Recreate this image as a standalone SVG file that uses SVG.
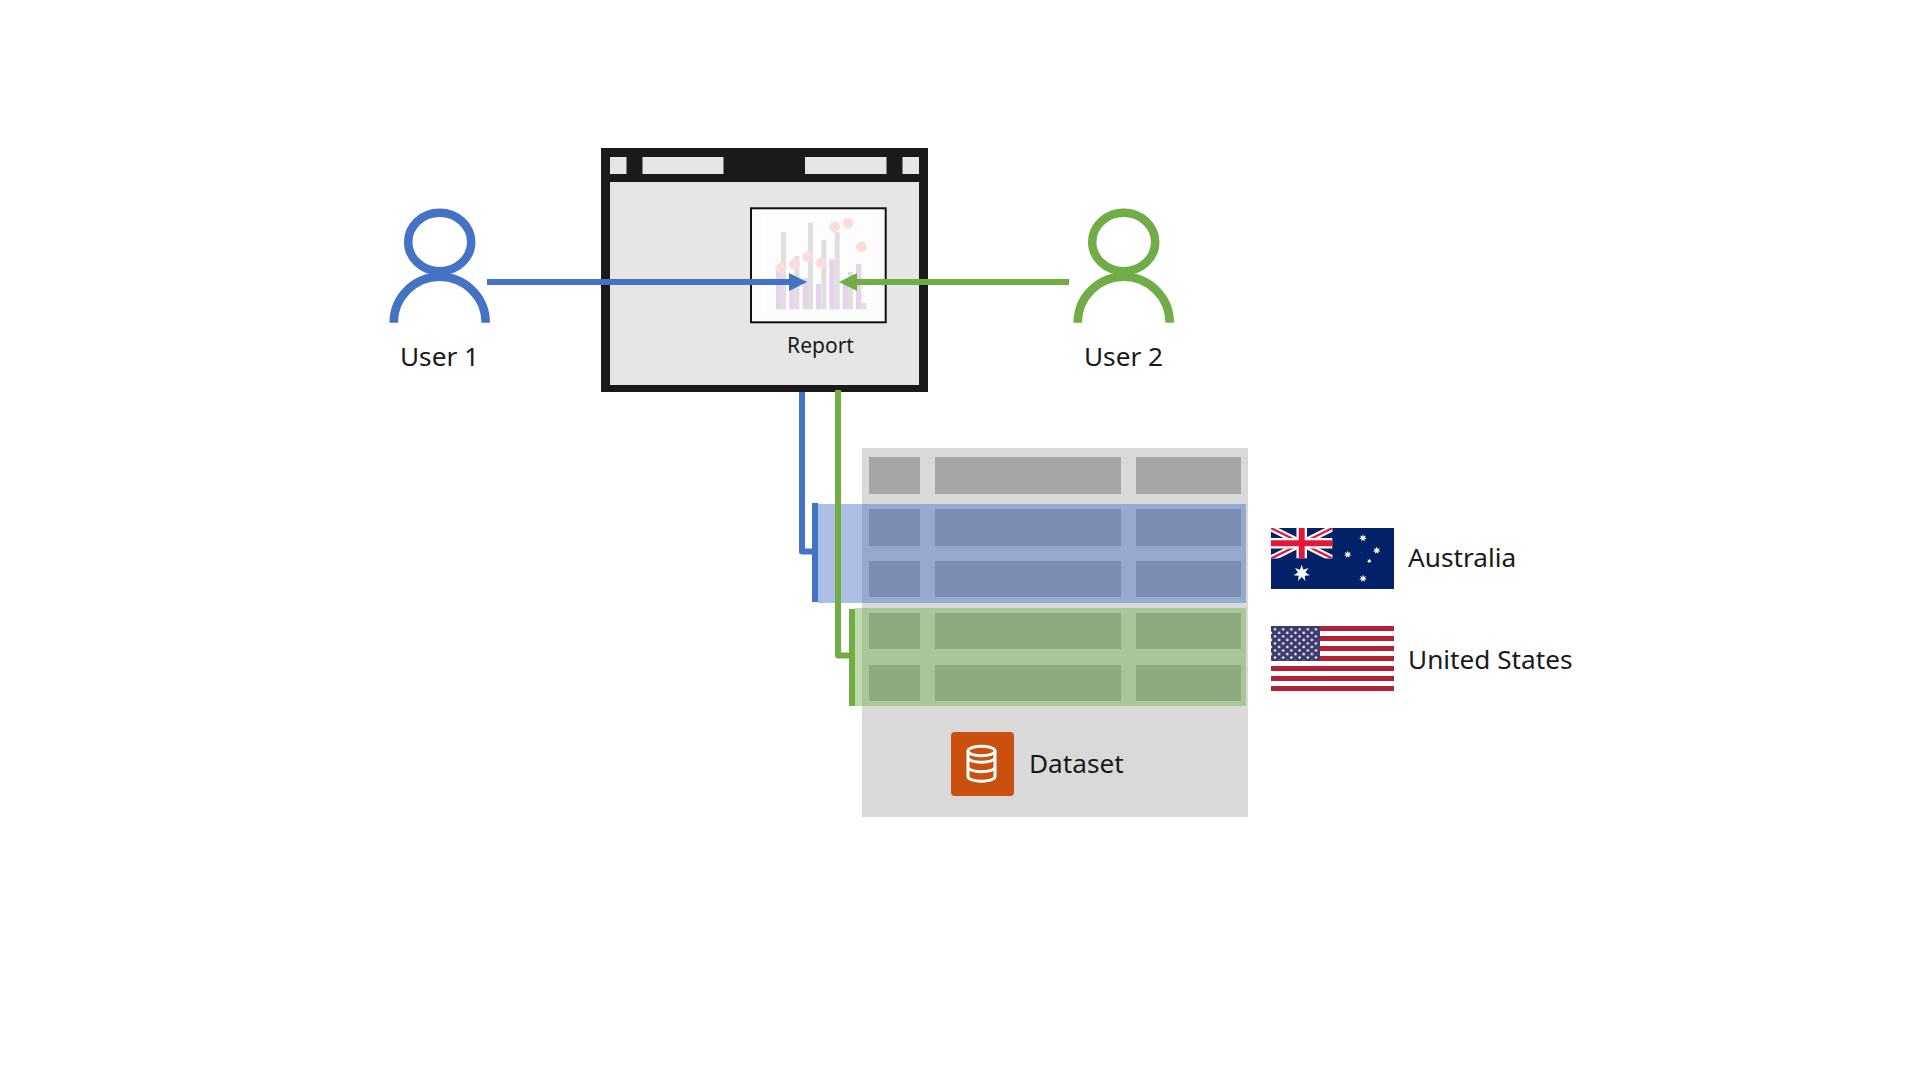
<svg xmlns="http://www.w3.org/2000/svg" width="1920" height="1080" viewBox="0 0 1920 1080">
<style>
text{font-family:"Noto Sans","Open Sans","Liberation Sans",sans-serif;fill:#1a1a1a}
.t{font-size:26.2px}
.w{fill:#e6e6e6}
.h{fill:#a6a6a6}
.cn{fill:none;stroke-width:6;stroke-linejoin:round}
.b{stroke:#4472c4}
.g{stroke:#70ad47}
.usr{fill:none;stroke-width:8.5}
.pk{fill:#e6d2ea}
.gy{fill:#dfdfdf}
.dot{fill:#fcdbd8;stroke:#fde2df;stroke-width:3}
.star{fill:#fff}
</style>
<defs>
<g id="user"><ellipse cx="439.7" cy="242" rx="31.5" ry="29.2"/><path d="M393.7 322.7A46 46 0 0 1 485.7 322.7"/></g>
<polygon id="s7" points="0,-1 .195,-.405 .782,-.623 .439,-.1 .975,.2225 .352,.281 .434,.901 0,.45 -.434,.901 -.352,.281 -.975,.2225 -.439,-.1 -.782,-.623 -.195,-.405"/>
<marker id="ab" markerUnits="userSpaceOnUse" markerWidth="18" markerHeight="18" refX="0" refY="9" orient="auto"><path d="M0 0L18 9L0 18Z" fill="#4472c4"/></marker>
<marker id="ag" markerUnits="userSpaceOnUse" markerWidth="18" markerHeight="18" refX="0" refY="9" orient="auto"><path d="M0 0L18 9L0 18Z" fill="#70ad47"/></marker>
<pattern id="stars" patternUnits="userSpaceOnUse" x="1271" y="627" width="16.4" height="7.07"><circle cx="4" cy="2.3" r="1.25" fill="#fff"/><circle cx="8.1" cy="5.9" r="1.25" fill="#fff"/><circle cx="12.2" cy="2.3" r="1.25" fill="#fff"/><circle cx="16.3" cy="5.9" r="1.25" fill="#fff"/><circle cx="0" cy="5.9" r="1.25" fill="#fff"/></pattern>
<clipPath id="uj"><rect x="1271" y="528" width="61.5" height="30.6"/></clipPath>
</defs>
<rect width="1920" height="1080" fill="#fff"/>

<g id="report-window">
<rect x="601" y="148" width="327" height="244" fill="#1a1a1a"/>
<rect class="w" x="610" y="182" width="309" height="203"/>
<rect class="w" x="610" y="157" width="16.5" height="17"/>
<rect class="w" x="642.5" y="157" width="81" height="17"/>
<rect class="w" x="805" y="157" width="81.5" height="17"/>
<rect class="w" x="902.5" y="157" width="16.5" height="17"/>
<g id="report">
<rect x="751" y="208.3" width="134.7" height="114" fill="#fbfbfb" stroke="#111" stroke-width="2"/>
<g transform="translate(740 190) scale(.33333)">
<rect x="65" y="72" width="345" height="298" fill="#fdfdfd"/>
<rect class="pk" x="108" y="240" width="15" height="118"/><rect class="gy" x="123" y="126" width="15" height="232"/>
<rect class="pk" x="148" y="270" width="15" height="88"/><rect class="gy" x="163" y="198" width="15" height="160"/>
<rect class="pk" x="188" y="265" width="16" height="93"/><rect class="gy" x="204" y="98" width="15" height="260"/>
<rect class="pk" x="228" y="282" width="16" height="76"/><rect class="gy" x="244" y="150" width="15" height="208"/>
<rect class="pk" x="268" y="208" width="16" height="150"/><rect class="gy" x="284" y="127" width="15" height="231"/>
<rect class="pk" x="308" y="270" width="16" height="88"/><rect class="gy" x="324" y="246" width="15" height="112"/>
<rect class="pk" x="348" y="222" width="16" height="136"/><rect class="gy" x="364" y="338" width="15" height="20"/>
<circle class="dot" cx="122" cy="234" r="15"/><circle class="dot" cx="163" cy="222" r="15"/><circle class="dot" cx="203" cy="200" r="15"/><circle class="dot" cx="243" cy="219" r="15"/><circle class="dot" cx="284" cy="110" r="15"/><circle class="dot" cx="324" cy="99" r="15"/><circle class="dot" cx="364" cy="170" r="15"/>
</g>
<text x="820.5" y="352.7" font-size="21" text-anchor="middle">Report</text>
</g>
</g>

<g id="user-1">
<use href="#user" class="usr" stroke="#4472c4"/>
<text class="t" x="439.5" y="366" text-anchor="middle">User 1</text>
</g>
<g id="user-2">
<use href="#user" class="usr" stroke="#70ad47" transform="translate(684 0)"/>
<text class="t" x="1123.5" y="366" text-anchor="middle">User 2</text>
</g>

<g id="dataset">
<rect x="862" y="448" width="386" height="369" fill="#d9d9d9"/>
<g class="h">
<rect x="869" y="457" width="51" height="37"/><rect x="935" y="457" width="186" height="37"/><rect x="1136" y="457" width="105" height="37"/>
<rect x="869" y="509" width="51" height="37"/><rect x="935" y="509" width="186" height="37"/><rect x="1136" y="509" width="105" height="37"/>
<rect x="869" y="561" width="51" height="36"/><rect x="935" y="561" width="186" height="36"/><rect x="1136" y="561" width="105" height="36"/>
<rect x="869" y="613" width="51" height="36"/><rect x="935" y="613" width="186" height="36"/><rect x="1136" y="613" width="105" height="36"/>
<rect x="869" y="665" width="51" height="36"/><rect x="935" y="665" width="186" height="36"/><rect x="1136" y="665" width="105" height="36"/>
</g>
<rect x="818" y="504" width="428" height="99" fill="#4472c4" fill-opacity=".45"/>
<rect x="855" y="608" width="391" height="98" fill="#70ad47" fill-opacity=".45"/>
<g id="dataset-icon">
<rect x="951" y="732" width="63" height="64" rx="4" fill="#ca500d"/>
<g fill="none" stroke="#fff" stroke-width="3">
<ellipse cx="981.5" cy="751" rx="13.5" ry="4.8"/>
<path d="M968 751V776.5A13.5 4.8 0 0 0 995 776.5V751M968 757.5A13.5 4.8 0 0 0 995 757.5M968 767A13.5 4.8 0 0 0 995 767"/>
</g>
</g>
<text class="t" x="1029" y="772.7">Dataset</text>
</g>

<g id="australia">
<rect x="1271" y="528" width="123" height="61" fill="#012169"/>
<g clip-path="url(#uj)">
<path d="M1271 528L1332.5 558.6M1332.5 528L1271 558.6" stroke="#fff" stroke-width="6.5"/>
<path d="M1271 528L1332.5 558.6M1332.5 528L1271 558.6" stroke="#e4173b" stroke-width="2.2"/>
<path d="M1301.7 528V558.6M1271 543.3H1332.5" stroke="#fff" stroke-width="10.5"/>
<path d="M1301.7 528V558.6M1271 543.3H1332.5" stroke="#e4173b" stroke-width="6"/>
</g>
<use href="#s7" class="star" transform="translate(1301.7 573.3) scale(8.5)"/>
<use href="#s7" class="star" transform="translate(1347.7 554.5) scale(4)"/>
<use href="#s7" class="star" transform="translate(1363 538) scale(4)"/>
<use href="#s7" class="star" transform="translate(1376.7 550.5) scale(4)"/>
<use href="#s7" class="star" transform="translate(1369.3 561) scale(2.4)"/>
<use href="#s7" class="star" transform="translate(1363 578.5) scale(4)"/>
<text class="t" x="1408" y="566.7">Australia</text>
</g>

<g id="united-states">
<rect x="1271" y="626" width="123" height="65" fill="#fff"/>
<path d="M1271 628.5H1394M1271 638.5H1394M1271 648.5H1394M1271 658.5H1394M1271 668.5H1394M1271 678.5H1394M1271 688.5H1394" stroke="#b22234" stroke-width="5"/>
<rect x="1271" y="626" width="49" height="35" fill="#3c3b6e"/>
<rect x="1271" y="627" width="47.6" height="33.2" fill="url(#stars)"/>
<text class="t" x="1408" y="668.7">United States</text>
</g>

<g id="connectors">
<path class="cn b" d="M487 282H789" marker-end="url(#ab)"/>
<path class="cn g" d="M1069 282H857" marker-end="url(#ag)"/>
<path class="cn b" d="M802 392V551.5H815"/>
<path class="cn b" d="M815 503V602"/>
<path class="cn g" d="M838 390V655.5H852"/>
<path class="cn g" d="M852 609V706"/>
</g>
</svg>
